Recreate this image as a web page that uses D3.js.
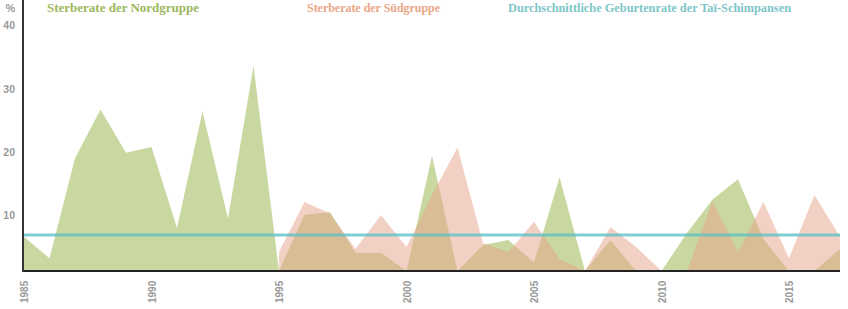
<!DOCTYPE html>
<html>
<head>
<meta charset="utf-8">
<script src="https://cdn.jsdelivr.net/npm/d3@7"></script>
<style>
  html, body { margin: 0; padding: 0; background: #fff; }
  svg { display: block; }
</style>
</head>
<body>
<div id="chart"></div>
<script>
// years shown on the x axis
const years = d3.range(1985, 2018);

// death rate of the north group (%)
const nordValues = [5.4, 2.0, 17.8, 25.5, 18.7, 19.6, 6.8, 25.2, 8.3, 32.4,
  0, 8.9, 9.3, 2.9, 2.9, 0, 18.2, 0, 4.1, 4.9,
  1.3, 14.8, 0, 4.9, 0, 0, 6.0, 11.3, 14.5, 5.0,
  0, 0, 3.5];

// death rate of the south group (%), no data before 1995
const suedValues = [null, null, null, null, null, null, null, null, null, null,
  3.0, 10.9, 9.1, 3.5, 8.8, 3.8, 12.0, 19.5, 4.4, 3.0,
  7.8, 1.9, 0, 6.9, 3.8, 0, 0, 11.0, 3.0, 10.9,
  2.0, 12.0, 5.4];

// average birth rate of the Taï chimpanzees (%)
const geburtenrate = 5.7;

const seriesNames = ["Sterberate der Nordgruppe", "Sterberate der Südgruppe",
  "Durchschnittliche Geburtenrate der Taï-Schimpansen"];
const yTicks = [10, 20, 30, 40];
const xTicks = [1985, 1990, 1995, 2000, 2005, 2010, 2015];

const width = 848, height = 309;
const margin = { top: 0, right: 8, bottom: 38, left: 24 };

const svg = d3.select("#chart").append("svg")
  .attr("width", width)
  .attr("height", height);

const x = d3.scaleLinear()
  .domain([1985, 2017])
  .range([margin.left, width - margin.right]);

const y = d3.scaleLinear()
  .domain([0, 40])
  .range([height - margin.bottom, height - margin.bottom - 253.2]);

const area = d3.area()
  .defined(d => d.v !== null)
  .x(d => x(d.year))
  .y0(y(0))
  .y1(d => y(d.v));

const nord = years.map((year, i) => ({ year, v: nordValues[i] }));
const sued = years.map((year, i) => ({ year, v: suedValues[i] }));

svg.append("path")
  .datum(nord)
  .attr("d", area)
  .attr("fill", "#c9d8a0");

svg.append("path")
  .datum(sued)
  .attr("d", area)
  .attr("fill", "#e7a189")
  .attr("fill-opacity", 0.5);

// birth rate reference line
svg.append("line")
  .attr("x1", margin.left)
  .attr("x2", x(2017))
  .attr("y1", y(geburtenrate))
  .attr("y2", y(geburtenrate))
  .attr("stroke", "#5fc0c4")
  .attr("stroke-opacity", 0.8)
  .attr("stroke-width", 3);

// axes
const xAxis = svg.append("g")
  .attr("transform", `translate(0,${y(0)})`)
  .call(d3.axisBottom(x).tickValues(xTicks).tickFormat(d3.format("d")).tickSize(0));
xAxis.select(".domain")
  .attr("stroke", "#222")
  .attr("stroke-width", 2)
  .attr("d", `M${margin.left - 1},0H${x(2017)}`);
xAxis.selectAll("text")
  .attr("transform", "rotate(-90)")
  .attr("text-anchor", "start")
  .attr("x", -32)
  .attr("y", 0)
  .attr("dy", "0.35em")
  .attr("fill", "#999")
  .style("font", "bold 10px 'Liberation Sans', Arial, sans-serif");

const yAxis = svg.append("g")
  .attr("transform", `translate(${margin.left - 1},0)`)
  .call(d3.axisLeft(y).tickValues(yTicks).tickSize(0));
yAxis.select(".domain")
  .attr("stroke", "#333")
  .attr("stroke-width", 2)
  .attr("d", `M0,0V${y(0) + 1}`);
yAxis.selectAll("text")
  .attr("x", -8)
  .attr("dy", "1.05em")
  .attr("fill", "#999")
  .style("font", "bold 10.5px 'Liberation Sans', Arial, sans-serif");

svg.append("text")
  .attr("x", 15)
  .attr("y", 12)
  .attr("text-anchor", "end")
  .attr("fill", "#999")
  .style("font", "bold 10.5px 'Liberation Sans', Arial, sans-serif")
  .text("%");

// series titles across the top
const titleColors = ["#9cb85c", "#eba585", "#7ec6c8"];
const titleX = [47, 307, 508];
const titleW = [152, 133, 283];
seriesNames.forEach((name, i) => {
  svg.append("text")
    .attr("x", titleX[i])
    .attr("y", 12)
    .attr("textLength", titleW[i])
    .attr("lengthAdjust", "spacingAndGlyphs")
    .attr("fill", titleColors[i])
    .style("font", "600 12.5px 'Liberation Serif', 'DejaVu Serif', serif")
    .text(name);
});
</script>
</body>
</html>
